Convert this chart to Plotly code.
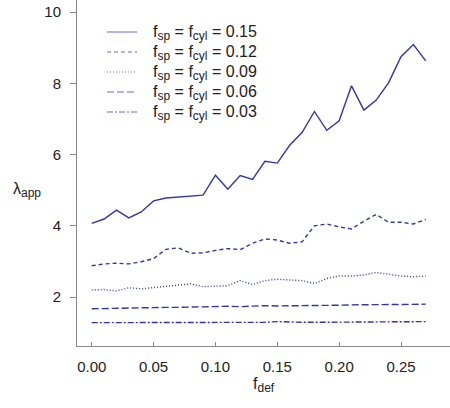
import plotly.graph_objects as go

f_def = [round(i * 0.01, 2) for i in range(28)]

lam_015 = [4.07, 4.19, 4.44, 4.22, 4.39, 4.70, 4.78, 4.80, 4.84, 4.86,
           5.42, 5.03, 5.41, 5.30, 5.81, 5.76, 6.26, 6.62, 7.21, 6.68,
           6.95, 7.93, 7.25, 7.53, 8.02, 8.75, 9.09, 8.63]
lam_012 = [2.88, 2.93, 2.95, 2.93, 2.99, 3.08, 3.34, 3.38, 3.23, 3.24,
           3.31, 3.36, 3.33, 3.51, 3.63, 3.60, 3.51, 3.55, 4.00, 4.05,
           3.97, 3.91, 4.13, 4.32, 4.10, 4.10, 4.05, 4.18]
lam_009 = [2.20, 2.21, 2.17, 2.26, 2.23, 2.26, 2.29, 2.32, 2.37, 2.29,
           2.30, 2.32, 2.46, 2.35, 2.46, 2.50, 2.48, 2.46, 2.38, 2.52,
           2.59, 2.59, 2.62, 2.69, 2.64, 2.59, 2.57, 2.59]
lam_006 = [1.67, 1.68, 1.68, 1.70, 1.71, 1.71, 1.71, 1.71, 1.72, 1.73,
           1.74, 1.74, 1.73, 1.75, 1.76, 1.75, 1.75, 1.76, 1.76, 1.77,
           1.77, 1.78, 1.79, 1.78, 1.79, 1.79, 1.80, 1.80]
lam_003 = [1.28, 1.28, 1.28, 1.28, 1.28, 1.28, 1.28, 1.29, 1.29, 1.29,
           1.29, 1.29, 1.29, 1.29, 1.29, 1.31, 1.29, 1.29, 1.29, 1.29,
           1.29, 1.30, 1.30, 1.30, 1.30, 1.31, 1.31, 1.31]

f_values = ["0.15", "0.12", "0.09", "0.06", "0.03"]
series_values = [lam_015, lam_012, lam_009, lam_006, lam_003]
dashes = ["solid", "4px,3px", "1px,2px", "7px,3px", "6px,2px,2px,2px"]

x_ticks = [0.00, 0.05, 0.10, 0.15, 0.20, 0.25]
y_ticks = [2, 4, 6, 8, 10]

LINE_COLOR = "#3434b0"
KEY_COLOR = "#6b6bd0"
FONT = "Liberation Sans, Arial, sans-serif"
TXT = "#222"


def sub(s):
    return f'<sub><span style="font-size:12px">{s}</span></sub>'


def legend_label(v):
    return f"f{sub('sp')} = f{sub('cyl')} = {v}"


# plot area in pixels: x 77..450, y 0..346
L, R, T, B = 77, 450, 0, 346


def px(xp):
    return (xp - L) / (R - L)


def py(yp):
    return 1 - (yp - T) / (B - T)


fig = go.Figure()
for v, vals, dash in zip(f_values, series_values, dashes):
    fig.add_trace(go.Scatter(
        x=f_def, y=vals, mode="lines", name=legend_label(v),
        line=dict(color=LINE_COLOR, width=1.4, dash=dash),
        showlegend=False,
    ))

annotations = [
    dict(text=f"f{sub('def')}", xref="paper", yref="paper",
         x=0.5, y=py(373), xanchor="center", yanchor="top",
         showarrow=False, font=dict(family=FONT, size=16, color=TXT)),
    dict(text=f"λ{sub('app')}", xref="paper", yref="paper",
         x=px(11), y=py(190), xanchor="left", yanchor="middle",
         showarrow=False, font=dict(family=FONT, size=16, color=TXT)),
]
shapes = []
for i, (v, dash) in enumerate(zip(f_values, dashes)):
    yk = 32 + 20 * i
    shapes.append(dict(type="line", xref="paper", yref="paper",
                       x0=px(107), x1=px(137), y0=py(yk), y1=py(yk),
                       line=dict(color=KEY_COLOR, width=1, dash=dash)))
    annotations.append(dict(text=legend_label(v), xref="paper", yref="paper",
                            x=px(151), y=py(yk + 1), xanchor="left",
                            yanchor="middle", showarrow=False,
                            font=dict(family=FONT, size=16, color=TXT)))

fig.update_layout(
    width=450, height=408,
    margin=dict(l=L, r=450 - R, t=T, b=408 - B),
    paper_bgcolor="white", plot_bgcolor="white",
    font=dict(family=FONT, size=15, color=TXT),
    showlegend=False,
    xaxis=dict(
        range=[-0.0119, 0.2896],
        tickvals=x_ticks, ticktext=[f"{v:.2f}" for v in x_ticks],
        ticks="inside", ticklen=4, tickcolor="#888", tickwidth=1,
        showline=True, linecolor="#888", linewidth=1,
        showgrid=False, zeroline=False,
        tickfont=dict(family=FONT, size=15, color=TXT),
        ticklabelstandoff=7,
    ),
    yaxis=dict(
        range=[0.625, 10.34],
        tickvals=y_ticks, ticktext=[str(v) for v in y_ticks],
        ticks="outside", ticklen=6, tickcolor="#888", tickwidth=1,
        showline=True, linecolor="#888", linewidth=1,
        showgrid=False, zeroline=False,
        tickfont=dict(family=FONT, size=15, color=TXT),
        ticklabelstandoff=6,
    ),
    shapes=shapes,
    annotations=annotations,
)

fig.write_html("out.html")
